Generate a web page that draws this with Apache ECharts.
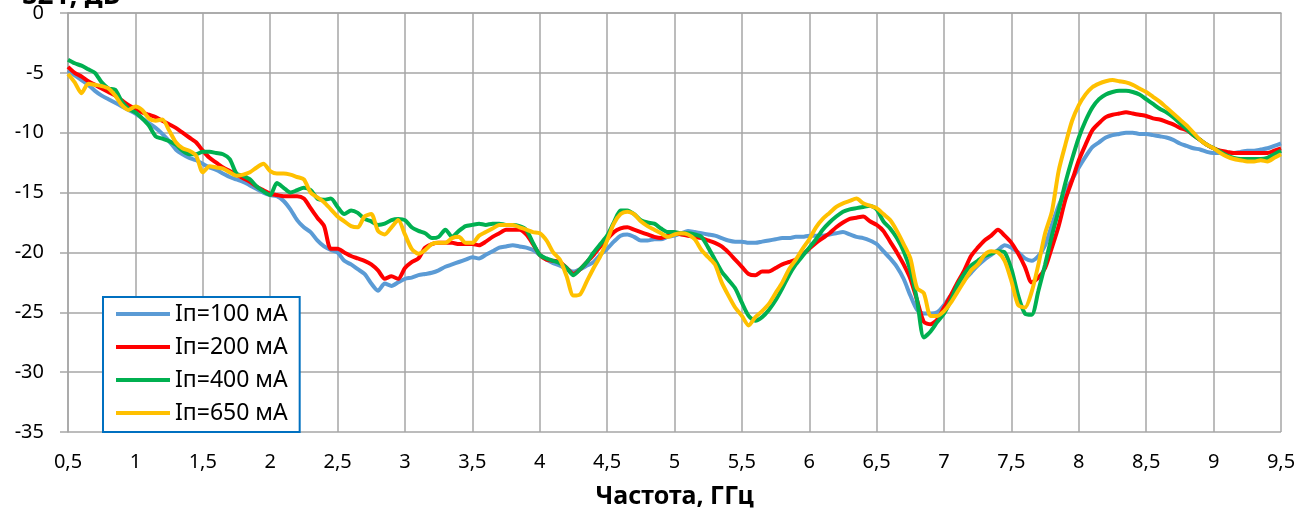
<!DOCTYPE html>
<html>
<head>
<meta charset="utf-8">
<script src="https://cdn.jsdelivr.net/npm/echarts@6/dist/echarts.min.js"></script>
<style>
  html, body { margin: 0; padding: 0; background: #fff; }
  #main { width: 1307px; height: 513px; }
</style>
</head>
<body>
<div id="main"></div>
<script>
// frequency samples, GHz (0.5 .. 9.5, step 0.05)
const freqStart = 0.5;
const freqStep = 0.05;
const freqCount = 181;

const seriesNames = ['Iп=100 мА', 'Iп=200 мА', 'Iп=400 мА', 'Iп=650 мА'];

// S21, dB — one row per 0.5 GHz
const s21_100 = [
  -4.8, -5.2, -5.6, -6.0, -6.5, -6.9, -7.2, -7.5, -7.8, -8.1,
  -8.4, -8.8, -9.2, -9.6, -10.1, -10.7, -11.4, -11.8, -12.1, -12.3,
  -12.6, -12.9, -13.1, -13.4, -13.7, -13.9, -14.1, -14.4, -14.7, -15.0,
  -15.2, -15.3, -15.7, -16.4, -17.3, -17.9, -18.3, -19.0, -19.5, -19.8,
  -20.0, -20.7, -21.0, -21.4, -21.8, -22.6, -23.2, -22.6, -22.8, -22.5,
  -22.2, -22.1, -21.9, -21.8, -21.7, -21.5, -21.2, -21.0, -20.8, -20.6,
  -20.4, -20.5, -20.2, -19.9, -19.6, -19.5, -19.4, -19.5, -19.6, -19.8,
  -20.2, -20.6, -20.9, -21.1, -21.4, -21.6, -21.4, -21.1, -20.8, -20.2,
  -19.7, -19.1, -18.6, -18.5, -18.7, -19.0, -19.0, -18.9, -18.9, -18.7,
  -18.6, -18.4, -18.2, -18.3, -18.4, -18.5, -18.6, -18.8, -19.0, -19.1,
  -19.1, -19.2, -19.2, -19.1, -19.0, -18.9, -18.8, -18.8, -18.7, -18.7,
  -18.6, -18.6, -18.6, -18.5, -18.4, -18.3, -18.5, -18.7, -18.8, -19.0,
  -19.3, -19.9, -20.5, -21.2, -22.2, -23.6, -24.8, -25.1, -25.1, -25.0,
  -24.4, -23.6, -23.0, -22.3, -21.7, -21.1, -20.6, -20.2, -19.8, -19.4,
  -19.6, -20.0, -20.5, -20.7, -20.3, -19.4, -17.7, -16.1, -14.9, -13.9,
  -12.9, -12.0, -11.2, -10.8, -10.4, -10.2, -10.1, -10.0, -10.0, -10.1,
  -10.1, -10.2, -10.3, -10.4, -10.6, -10.9, -11.1, -11.3, -11.4, -11.6,
  -11.7, -11.7, -11.7, -11.7, -11.6, -11.5, -11.5, -11.4, -11.3, -11.1,
  -10.9
];

const s21_200 = [
  -4.5, -5.0, -5.3, -5.7, -6.0, -6.3, -6.6, -6.9, -7.3, -7.7,
  -8.0, -8.3, -8.5, -8.7, -9.0, -9.3, -9.6, -10.0, -10.4, -10.8,
  -11.5, -12.1, -12.5, -12.9, -13.2, -13.5, -13.8, -14.1, -14.5, -14.8,
  -15.1, -15.2, -15.3, -15.3, -15.3, -15.5, -16.3, -17.1, -17.8, -19.7,
  -19.7, -20.0, -20.3, -20.5, -20.7, -21.0, -21.5, -22.2, -22.0, -22.2,
  -21.3, -20.8, -20.5, -19.6, -19.3, -19.2, -19.2, -19.2, -19.3, -19.3,
  -19.3, -19.4, -19.1, -18.7, -18.4, -18.1, -18.1, -18.1, -18.5, -19.3,
  -20.2, -20.6, -20.7, -20.8, -21.3, -21.8, -21.4, -20.8, -20.2, -19.5,
  -18.9, -18.3, -18.0, -17.9, -18.1, -18.3, -18.5, -18.7, -18.8, -18.6,
  -18.4, -18.5, -18.6, -18.7, -18.8, -19.0, -19.2, -19.5, -20.0, -20.6,
  -21.2, -21.8, -21.9, -21.6, -21.6, -21.3, -21.0, -20.8, -20.6, -20.2,
  -19.7, -19.2, -18.8, -18.4, -17.9, -17.5, -17.2, -17.1, -17.0, -17.4,
  -17.7, -18.2, -19.1, -20.0, -21.0, -22.2, -24.0, -25.8, -26.0, -25.6,
  -24.6, -23.6, -22.5, -21.5, -20.3, -19.6, -19.0, -18.6, -18.1, -18.6,
  -19.2, -20.1, -21.2, -22.5, -22.1, -21.3, -19.6, -17.8, -15.6, -14.0,
  -12.3, -11.0, -9.8, -9.2, -8.7, -8.5, -8.4, -8.3, -8.4, -8.5,
  -8.6, -8.8, -8.9, -9.1, -9.3, -9.6, -9.8, -10.2, -10.6, -11.0,
  -11.3, -11.5, -11.6, -11.7, -11.7, -11.7, -11.7, -11.7, -11.7, -11.5,
  -11.3
];

const s21_400 = [
  -3.9, -4.2, -4.4, -4.7, -5.0, -5.8, -6.3, -6.4, -7.4, -8.0,
  -8.3, -8.8, -9.4, -10.3, -10.5, -10.7, -11.0, -11.5, -11.8, -11.8,
  -11.6, -11.6, -11.7, -11.8, -12.2, -13.4, -13.6, -13.9, -14.5, -14.9,
  -15.2, -14.2, -14.6, -15.0, -14.8, -14.6, -14.8, -15.5, -15.6, -15.5,
  -16.2, -16.8, -16.5, -16.7, -17.2, -17.4, -17.7, -17.6, -17.3, -17.2,
  -17.3, -17.9, -18.2, -18.4, -18.8, -18.7, -18.1, -18.7, -18.2, -17.8,
  -17.7, -17.6, -17.7, -17.6, -17.6, -17.7, -17.7, -17.8, -18.1, -19.2,
  -20.2, -20.5, -20.7, -20.9, -21.3, -21.9, -21.4, -20.8, -20.0, -19.3,
  -18.6, -17.5, -16.5, -16.5, -16.8, -17.3, -17.5, -17.6, -18.0, -18.3,
  -18.3, -18.4, -18.4, -18.5, -18.7, -19.6, -20.6, -21.6, -22.3, -23.0,
  -24.2, -25.3, -25.7, -25.4, -24.8, -24.0, -23.0, -21.9, -21.0, -20.3,
  -19.6, -18.9, -18.1, -17.5, -17.0, -16.6, -16.4, -16.3, -16.2, -16.1,
  -16.4, -17.4, -18.0, -18.8, -19.9, -21.5, -24.0, -27.1, -26.6, -25.8,
  -25.1, -24.0, -22.7, -21.8, -21.1, -20.7, -20.3, -20.1, -19.9, -20.0,
  -21.4, -23.6, -25.1, -25.2, -23.2, -21.0, -18.6, -16.5, -14.2, -12.2,
  -10.4, -9.0, -7.9, -7.2, -6.8, -6.6, -6.5, -6.5, -6.6, -6.8,
  -7.2, -7.6, -8.0, -8.3, -8.7, -9.2, -9.7, -10.2, -10.6, -11.0,
  -11.3, -11.6, -11.9, -12.1, -12.2, -12.2, -12.2, -12.2, -12.1, -11.8,
  -11.5
];

const s21_650 = [
  -5.1, -5.8, -6.7, -5.9, -6.0, -6.1, -6.3, -6.9, -7.7, -8.1,
  -7.8, -8.1, -8.8, -9.0, -8.9, -9.8, -10.8, -11.3, -11.5, -11.9,
  -13.3, -12.8, -12.9, -13.0, -13.3, -13.6, -13.5, -13.3, -12.9, -12.6,
  -13.2, -13.4, -13.4, -13.5, -13.7, -13.9, -15.0, -15.4, -15.8, -16.4,
  -17.0, -17.4, -17.8, -17.9, -17.0, -16.8, -18.2, -18.5, -17.9, -17.3,
  -18.5, -19.7, -20.1, -19.8, -19.3, -19.2, -19.2, -18.8, -18.7, -19.2,
  -19.2, -18.6, -18.3, -18.0, -17.7, -17.7, -17.7, -17.9, -18.1, -18.3,
  -18.4, -19.0, -20.0, -20.6, -22.0, -23.6, -23.5, -22.4, -21.3, -20.3,
  -19.0, -17.6, -16.8, -16.6, -16.8, -17.4, -17.8, -18.1, -18.4, -18.7,
  -18.5, -18.4, -18.5, -18.9, -19.8, -20.4, -21.0, -22.5, -23.6, -24.6,
  -25.3, -26.1, -25.4, -24.9, -24.3, -23.4, -22.5, -21.4, -20.6, -19.7,
  -18.9, -17.9, -17.2, -16.7, -16.2, -15.9, -15.7, -15.5, -15.9, -16.1,
  -16.3, -16.8, -17.3, -18.2, -19.3, -20.5, -23.0, -23.4, -25.3, -25.3,
  -24.9, -24.2, -23.3, -22.4, -21.5, -21.0, -20.2, -19.9, -20.0, -20.7,
  -22.4, -24.4, -24.6, -23.3, -21.0, -18.4, -16.6, -13.2, -11.0, -9.0,
  -7.7, -6.8, -6.2, -5.9, -5.7, -5.6, -5.7, -5.8, -6.0, -6.3,
  -6.6, -7.0, -7.4, -7.9, -8.4, -8.9, -9.4, -10.0, -10.6, -11.0,
  -11.3, -11.7, -12.0, -12.2, -12.3, -12.4, -12.4, -12.3, -12.4, -12.1,
  -11.8
];

const seriesValues = [s21_100, s21_200, s21_400, s21_650];
const seriesColors = ['#5b9bd5', '#ff0000', '#00b050', '#ffc000'];

const freq = [];
for (let i = 0; i < freqCount; i++) {
  freq.push(+(freqStart + i * freqStep).toFixed(2));
}

const FONT = '"Noto Sans", "Open Sans", sans-serif';
const GRID_COLOR = '#a6a6a6';

const chart = echarts.init(document.getElementById('main'));

const option = {
  animation: false,
  textStyle: { fontFamily: FONT },
  grid: { left: 68, right: 26, top: 13, bottom: 81, outerBoundsMode: 'none' },
  legend: {
    orient: 'vertical',
    left: 103,
    top: 297,
    data: seriesNames,
    icon: 'rect',
    itemWidth: 54,
    itemHeight: 4,
    itemGap: 9,
    padding: [5, 12, 7, 13],
    borderColor: '#0070c0',
    borderWidth: 2,
    backgroundColor: '#fff',
    textStyle: { color: '#000', fontSize: 23, lineHeight: 24, fontFamily: FONT }
  },
  xAxis: {
    type: 'value',
    min: 0.5,
    max: 9.5,
    interval: 0.5,
    name: 'Частота, ГГц',
    nameLocation: 'middle',
    nameGap: 52,
    nameTextStyle: { color: '#000', fontSize: 25, fontWeight: 'bold', fontFamily: FONT },
    axisLine: { lineStyle: { color: GRID_COLOR, width: 1.5 } },
    axisTick: { show: false },
    splitLine: { lineStyle: { color: GRID_COLOR, width: 1.5 } },
    axisLabel: {
      color: '#000',
      fontSize: 20,
      margin: 20,
      formatter: function (v) { return String(v).replace('.', ','); }
    }
  },
  yAxis: {
    type: 'value',
    min: -35,
    max: 0,
    interval: 5,
    axisLine: { show: true, lineStyle: { color: GRID_COLOR, width: 1.5 } },
    axisTick: { show: true, length: 8, lineStyle: { color: GRID_COLOR, width: 1.5 } },
    splitLine: { lineStyle: { color: GRID_COLOR, width: 1.5 } },
    axisLabel: { color: '#000', fontSize: 20, margin: 24 }
  },
  graphic: [
    {
      // y axis title, cut off by the top edge as in the original
      type: 'text',
      left: 22,
      top: -18,
      style: { text: 'S21, дБ', fill: '#000', font: 'bold 28px ' + FONT }
    }
  ],
  series: seriesNames.map(function (name, k) {
    return {
      name: name,
      type: 'line',
      showSymbol: false,
      smooth: 0.25,
      data: freq.map(function (f, i) { return [f, seriesValues[k][i]]; }),
      itemStyle: { color: seriesColors[k] },
      lineStyle: { color: seriesColors[k], width: 4 }
    };
  })
};

chart.setOption(option);
</script>
</body>
</html>
